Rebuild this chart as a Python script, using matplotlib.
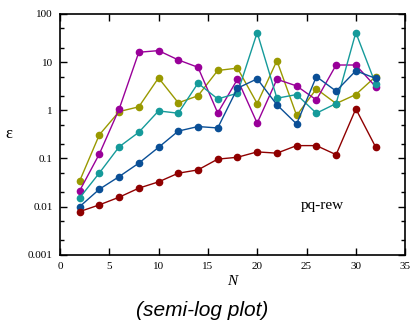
import numpy as np
import matplotlib
matplotlib.use("Agg")
import matplotlib.pyplot as plt
from matplotlib.ticker import LogLocator, FixedLocator, NullFormatter

# system sizes
N = [2, 4, 6, 8, 10, 12, 14, 16, 18, 20, 22, 24, 26, 28, 30, 32]

# error per series
eps_olive = [0.034, 0.31, 0.94, 1.18, 4.7, 1.43, 2.0, 6.7, 7.5, 1.38, 10.7, 0.78, 2.78, 1.38, 2.12, 5.0]
eps_magenta = [0.0213, 0.124, 1.05, 16, 17.3, 11.1, 7.8, 0.88, 4.4, 0.54, 4.4, 3.2, 1.64, 8.7, 8.7, 3.1]
eps_teal = [0.0152, 0.05, 0.174, 0.35, 0.97, 0.87, 3.65, 1.72, 2.26, 41, 1.78, 2.12, 0.87, 1.38, 41, 3.53]
eps_blue = [0.01, 0.023, 0.042, 0.08, 0.17, 0.37, 0.46, 0.43, 2.87, 4.5, 1.3, 0.52, 5.0, 2.5, 6.6, 4.6]
eps_red = [0.0079, 0.0109, 0.0157, 0.0242, 0.0327, 0.0495, 0.058, 0.097, 0.106, 0.137, 0.129, 0.185, 0.185, 0.12, 1.07, 0.174]

series = [
    (eps_olive, "#999900"),
    (eps_magenta, "#990099"),
    (eps_teal, "#159a9a"),
    (eps_blue, "#0a4f96"),
    (eps_red, "#8f0000"),
]

fig = plt.figure(figsize=(4.13, 3.31), dpi=100)
ax = fig.add_axes([0.145, 0.230, 0.836, 0.728])

for vals, col in series:
    ax.plot(N, vals, color=col, lw=1.0, marker="o", ms=4.5, mec=col, mfc=col)

ax.set_yscale("log")
ax.set_xlim(0, 35)
ax.set_ylim(0.001, 100)

serif = "Liberation Serif"
ax.set_xticks(range(0, 36, 5))
ax.yaxis.set_major_locator(FixedLocator([0.001, 0.01, 0.1, 1, 10, 100]))
ax.set_yticklabels(["0.001", "0.01", "0.1", "1", "10", "100"])
ax.yaxis.set_minor_locator(LogLocator(base=10, subs=(2, 5)))
ax.yaxis.set_minor_formatter(NullFormatter())
ax.tick_params(which="both", direction="in", top=True, right=True, width=1)
ax.tick_params(which="major", length=5, labelsize=8, pad=5)
ax.tick_params(which="minor", length=3)
for lab in ax.get_xticklabels() + ax.get_yticklabels():
    lab.set_fontfamily(serif)
for sp in ax.spines.values():
    sp.set_linewidth(1.2)

ax.set_xlabel("N", fontfamily=serif, fontstyle="italic", fontsize=11, labelpad=3)
ax.set_ylabel("ε", fontfamily=serif, fontsize=12, rotation=0, labelpad=14, va="center")
ax.text(26.6, 0.0105, "pq-rew", fontfamily=serif, fontsize=11, ha="center", va="center")

fig.text(0.49, 0.063, "(semi-log plot)", fontfamily="Liberation Sans", fontstyle="italic",
         fontsize=15, ha="center", va="center")

fig.savefig("out.png", dpi=100)
